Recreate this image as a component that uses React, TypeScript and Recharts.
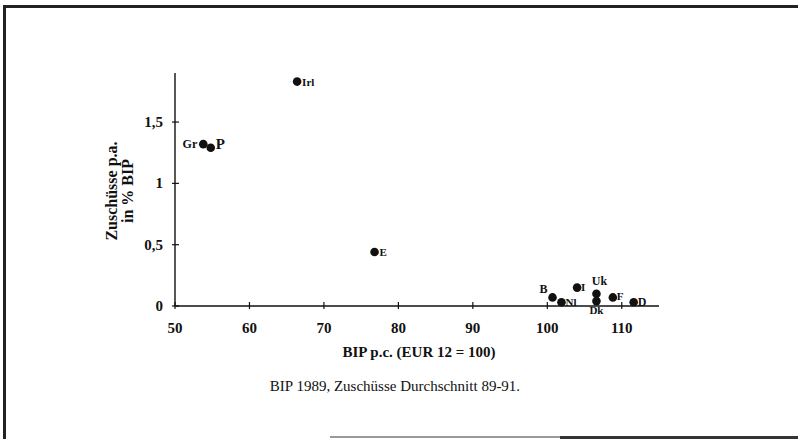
import React from "react";
import {
  ScatterChart,
  Scatter,
  XAxis,
  YAxis,
} from "recharts";

// Laender, BIP p.c. (EUR 12 = 100) und Zuschuesse p.a. in % BIP
const countries = ["Irl", "Gr", "P", "E", "B", "Nl", "I", "Uk", "Dk", "F", "D"];
const bipValues = [66.4, 53.8, 54.8, 76.8, 100.7, 101.9, 104.0, 106.6, 106.6, 108.8, 111.6];
const zuschussValues = [1.83, 1.32, 1.29, 0.44, 0.07, 0.03, 0.15, 0.1, 0.04, 0.07, 0.03];

const xTicks = [50, 60, 70, 80, 90, 100, 110];
const yTicks = [0, 0.5, 1, 1.5];

const FONT = "'Liberation Serif', 'Times New Roman', serif";

// where each country label sits relative to its dot
const LABEL_STYLE: Record<string, { dx: number; dy: number; anchor: string; size: number }> = {
  Irl: { dx: 5, dy: 4, anchor: "start", size: 11 },
  Gr: { dx: -6, dy: 4, anchor: "end", size: 12 },
  P: { dx: 5, dy: 1, anchor: "start", size: 15 },
  E: { dx: 5, dy: 4, anchor: "start", size: 11 },
  B: { dx: -9, dy: -4, anchor: "middle", size: 12 },
  Nl: { dx: 4, dy: 4, anchor: "start", size: 11 },
  I: { dx: 4, dy: 3, anchor: "start", size: 11 },
  Uk: { dx: 3, dy: -9, anchor: "middle", size: 12 },
  Dk: { dx: 0, dy: 13, anchor: "middle", size: 11 },
  F: { dx: 4, dy: 3, anchor: "start", size: 11 },
  D: { dx: 4, dy: 4, anchor: "start", size: 12 },
};

const points = countries.map((name, i) => ({
  name,
  bip: bipValues[i],
  zuschuss: zuschussValues[i],
}));

const formatDe = (v: number) => String(v).replace(".", ",");

const XTick = ({ x, y, payload }: any) => (
  <g>
    <line x1={x} y1={y - 4} x2={x} y2={y + 3} stroke="#111" strokeWidth={1.2} />
    <text
      x={x}
      y={y + 27}
      textAnchor="middle"
      fontFamily={FONT}
      fontWeight="bold"
      fontSize={15}
      fill="#111"
    >
      {payload.value}
    </text>
  </g>
);

const YTick = ({ x, y, payload }: any) => (
  <g>
    <line x1={x - 3} y1={y} x2={x + 4} y2={y} stroke="#111" strokeWidth={1.2} />
    <text
      x={x - 12}
      y={y + 5}
      textAnchor="end"
      fontFamily={FONT}
      fontWeight="bold"
      fontSize={15}
      fill="#111"
    >
      {formatDe(payload.value)}
    </text>
  </g>
);

const Dot = (props: any) => {
  const { cx, cy, payload } = props;
  const s = LABEL_STYLE[payload.name];
  return (
    <g>
      <circle cx={cx} cy={cy} r={4.3} fill="#111" />
      <text
        x={cx + s.dx}
        y={cy + s.dy}
        textAnchor={s.anchor}
        fontFamily={FONT}
        fontWeight="bold"
        fontSize={s.size}
        fill="#111"
      >
        {payload.name}
      </text>
    </g>
  );
};

export default function App() {
  return (
    <div
      style={{
        position: "absolute",
        left: 0,
        top: 0,
        width: 798,
        height: 439,
        background: "#fff",
        overflow: "hidden",
        fontFamily: FONT,
      }}
    >
      {/* scanned frame */}
      <div style={{ position: "absolute", left: 3, top: 5, width: 795, height: 3, background: "#222" }} />
      <div style={{ position: "absolute", left: 3, top: 5, width: 3, height: 434, background: "#222" }} />
      <div style={{ position: "absolute", left: 330, top: 436, width: 468, height: 2, background: "#999" }} />
      <div style={{ position: "absolute", left: 560, top: 436, width: 238, height: 3, background: "#333" }} />

      <ScatterChart
        width={798}
        height={439}
        margin={{ top: 73, right: 139, bottom: 103, left: 115 }}
        style={{ position: "absolute", left: 0, top: 0 }}
      >
        <XAxis
          type="number"
          dataKey="bip"
          domain={[50, 115]}
          ticks={xTicks}
          tick={<XTick />}
          tickLine={false}
          tickSize={0}
          tickMargin={0}
          height={30}
          axisLine={{ stroke: "#111", strokeWidth: 1.4 }}
          interval={0}
        />
        <YAxis
          type="number"
          dataKey="zuschuss"
          domain={[0, 1.9]}
          ticks={yTicks}
          tick={<YTick />}
          tickLine={false}
          tickSize={0}
          tickMargin={0}
          width={60}
          axisLine={{ stroke: "#111", strokeWidth: 1.4 }}
          interval={0}
        />
        <Scatter data={points} shape={<Dot />} isAnimationActive={false} />
      </ScatterChart>

      {/* y axis title */}
      <div
        style={{
          position: "absolute",
          left: 120,
          top: 191,
          transform: "translate(-50%, -50%) rotate(-90deg)",
          whiteSpace: "nowrap",
          textAlign: "center",
          fontWeight: "bold",
          fontSize: 16,
          lineHeight: "16px",
          color: "#111",
        }}
      >
        Zuschüsse p.a.
        <br />
        in % BIP
      </div>

      {/* x axis title */}
      <div
        style={{
          position: "absolute",
          left: 419,
          top: 352,
          transform: "translate(-50%, -50%)",
          whiteSpace: "nowrap",
          fontWeight: "bold",
          fontSize: 15,
          color: "#111",
        }}
      >
        BIP p.c. (EUR 12 = 100)
      </div>

      {/* caption */}
      <div
        style={{
          position: "absolute",
          left: 395,
          top: 386,
          transform: "translate(-50%, -50%)",
          whiteSpace: "nowrap",
          fontSize: 15,
          color: "#111",
        }}
      >
        BIP 1989, Zuschüsse Durchschnitt 89-91.
      </div>
    </div>
  );
}
